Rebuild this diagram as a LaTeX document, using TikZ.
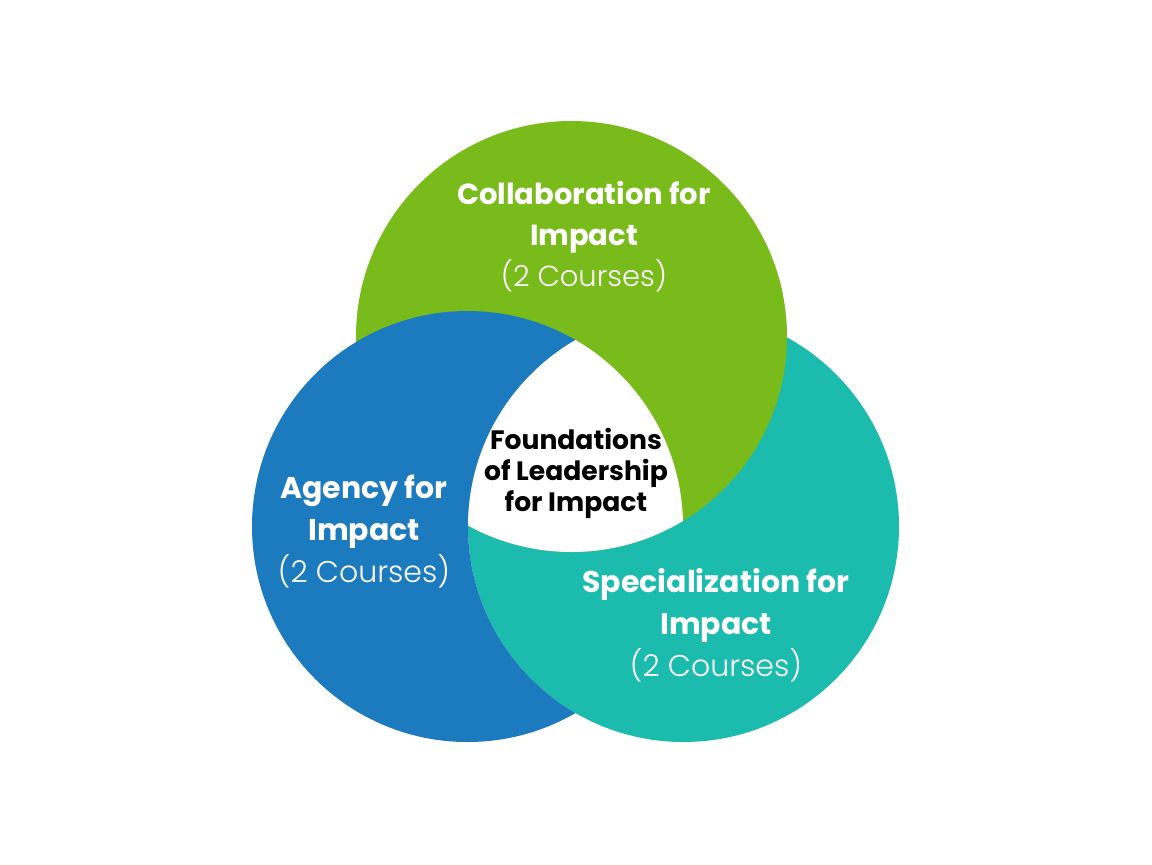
\documentclass[tikz,border=0pt]{standalone}
\usepackage{fontspec}
\setmainfont{Poppins}
\newfontfamily\popbold{Poppins}[UprightFont={* Bold}]
\newfontfamily\poplight{Poppins}[UprightFont={* Light}]
\usetikzlibrary{positioning}
\definecolor{collabgreen}{RGB}{122,187,28}
\definecolor{agencyblue}{RGB}{28,122,190}
\definecolor{specteal}{RGB}{27,187,173}
\tikzset{
  ringtxt/.style={white, align=center, font=\popbold\fontsize{14.5}{20.5}\selectfont},
  bigringtxt/.style={ringtxt, font=\popbold\fontsize{15}{21}\selectfont},
  coretxt/.style={black, align=center, font=\popbold\fontsize{13.3}{15.5}\selectfont}
}

\begin{document}
\begin{tikzpicture}[x=0.5pt, y=-0.5pt]
        \useasboundingbox (0,0) rectangle (1152,864);
        \coordinate (collab) at (571.5,336.5);
        \coordinate (agency) at (467.5,526.5);
        \coordinate (special) at (683.5,526.5);
        \fill[specteal] (special) circle (107.75pt);
        \fill[collabgreen] (collab) circle (107.75pt);
        \begin{scope}[even odd rule]
          \clip (special) circle (107.75pt) (0,0) rectangle (1152,864);
          \fill[agencyblue] (agency) circle (107.75pt);
        \end{scope}
        \begin{scope}
          \clip (agency) circle (107.75pt);
          \clip (collab) circle (107.75pt);
          \fill[white] (special) circle (107.75pt);
        \end{scope}
        \node[ringtxt] (collabtxt) at (584,237) {Collaboration for\\Impact\\{\poplight (2 Courses)}};
        \node[bigringtxt] (agencytxt) at (364,532) {Agency for\\Impact\\{\poplight (2 Courses)}};
        \node[bigringtxt] (specialtxt) at (716,625) {Specialization for\\Impact\\{\poplight (2 Courses)}};
        \node[coretxt] (coretxt) at (576,473) {Foundations\\of Leadership\\for Impact};
      \end{tikzpicture}
\end{document}
